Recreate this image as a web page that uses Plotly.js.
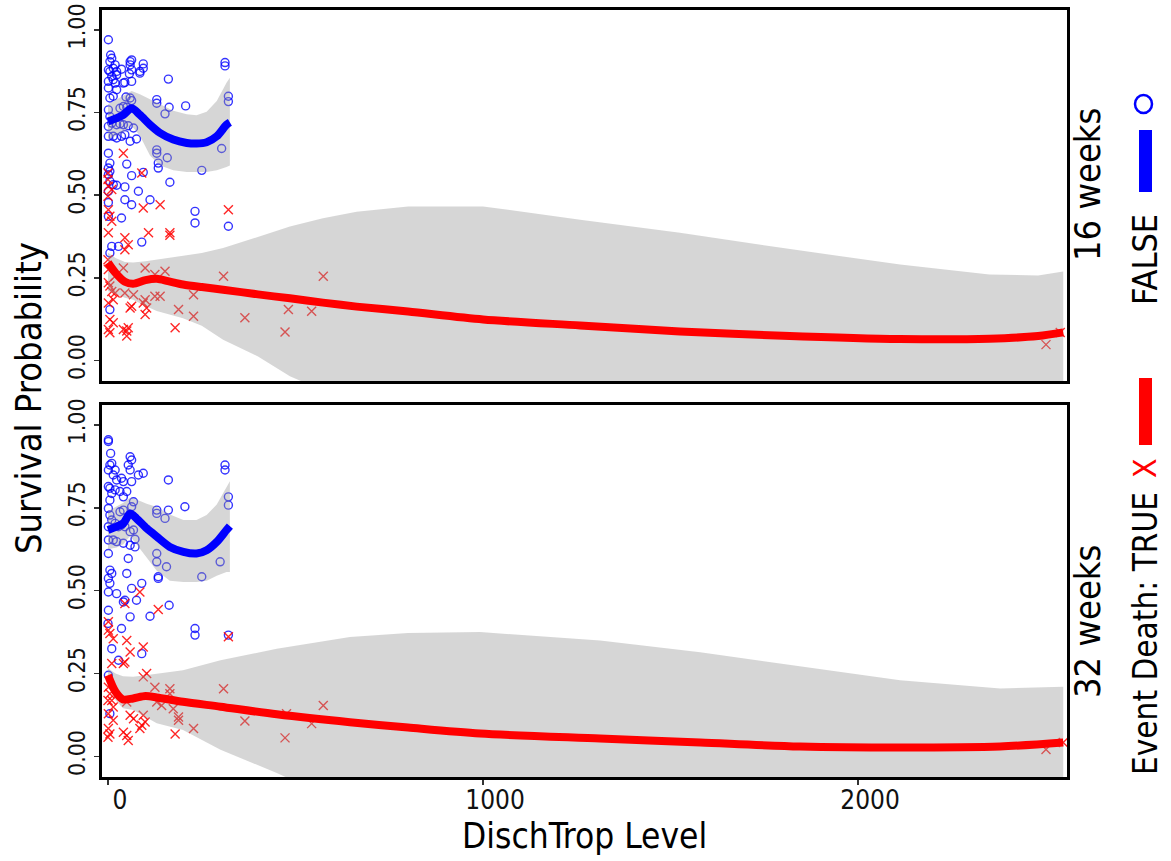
<!DOCTYPE html>
<html>
<head>
<meta charset="utf-8">
<script src="https://cdn.plot.ly/plotly-3.0.1.min.js"></script>
<style>html,body{margin:0;padding:0;background:#fff;}#chart{width:1171px;height:861px;}</style>
</head>
<body>
<div id="chart"></div>
<script>
// ---------------- DATA ----------------
const xTickVals = [0, 1000, 2000];
const xTickText = ['0', '1000', '2000'];
const yTickVals = [0, 0.25, 0.5, 0.75, 1.0];
const yTickText = ['0.00', '0.25', '0.50', '0.75', '1.00'];
const panelLabels = ['16 weeks', '32 weeks'];

// 16 weeks, Event Death FALSE (points)
const w16FalseX = [1,7,10,5,1,5,14,19,23,36,10,14,1,19,23,41,45,59,63,59,85,94,94,85,63,57,63,161,23,1,5,14,48,59,63,130,130,163,207,152,32,41,50,1,5,1,10,23,32,41,54,68,1,14,23,36,45,59,76,130,130,158,303,312,312,321,321,1,5,1,5,50,1,134,134,63,94,250,165,5,14,23,45,1,81,45,63,112,1,1,36,232,232,321,10,28,90,5,5];
const w16FalseY = [0.970,0.924,0.914,0.904,0.879,0.874,0.884,0.894,0.874,0.881,0.859,0.849,0.844,0.839,0.864,0.839,0.841,0.904,0.909,0.894,0.874,0.897,0.884,0.869,0.879,0.867,0.844,0.851,0.819,0.824,0.794,0.799,0.797,0.794,0.786,0.789,0.778,0.766,0.770,0.746,0.763,0.768,0.766,0.758,0.738,0.708,0.718,0.713,0.716,0.713,0.710,0.703,0.678,0.678,0.673,0.678,0.683,0.663,0.670,0.637,0.627,0.613,0.641,0.901,0.891,0.799,0.783,0.627,0.597,0.582,0.572,0.594,0.562,0.597,0.582,0.559,0.569,0.575,0.539,0.542,0.532,0.530,0.525,0.512,0.512,0.486,0.471,0.486,0.478,0.436,0.431,0.451,0.416,0.406,0.345,0.345,0.358,0.325,0.154];

// 16 weeks, Event Death TRUE (points)
const w16TrueX = [41,90,94,139,321,108,165,165,1,5,10,1,45,54,45,0,10,1,0,0,308,574,99,152,125,41,1,5,10,19,14,1,5,14,1,5,41,50,54,50,59,63,94,103,99,99,125,139,68,45,228,188,179,228,365,481,543,472,0,1,19,2539,2501];
const w16TrueY = [0.627,0.567,0.461,0.471,0.456,0.386,0.386,0.379,0.386,0.436,0.421,0.456,0.371,0.350,0.335,0.497,0.517,0.527,0.547,0.567,0.255,0.255,0.280,0.270,0.260,0.280,0.235,0.225,0.209,0.204,0.184,0.174,0.124,0.114,0.094,0.084,0.094,0.089,0.099,0.074,0.159,0.164,0.174,0.159,0.139,0.184,0.194,0.194,0.199,0.204,0.199,0.154,0.099,0.134,0.129,0.154,0.149,0.086,0.305,0.275,0.255,0.085,0.048];

// 32 weeks, Event Death FALSE (points)
const w32FalseX = [1,1,7,10,5,1,19,14,23,36,41,59,63,54,59,81,94,63,161,1,5,10,19,32,41,50,5,32,41,63,68,130,130,161,205,152,1,5,10,1,19,28,36,45,59,68,1,14,23,41,59,72,72,312,312,321,321,130,130,156,299,134,134,250,1,5,10,1,50,54,90,63,5,23,1,41,45,76,59,112,163,1,0,36,232,232,321,10,28,90,1,5];
const w32FalseY = [0.955,0.950,0.914,0.884,0.879,0.864,0.864,0.849,0.834,0.839,0.829,0.904,0.894,0.879,0.864,0.849,0.854,0.829,0.834,0.814,0.809,0.793,0.804,0.799,0.783,0.799,0.773,0.738,0.743,0.753,0.768,0.743,0.733,0.743,0.753,0.718,0.748,0.728,0.713,0.693,0.703,0.693,0.698,0.693,0.678,0.683,0.653,0.653,0.648,0.643,0.637,0.632,0.655,0.879,0.864,0.783,0.758,0.612,0.587,0.572,0.587,0.542,0.537,0.542,0.612,0.562,0.552,0.537,0.552,0.597,0.522,0.507,0.522,0.491,0.496,0.466,0.471,0.471,0.421,0.423,0.456,0.441,0.401,0.386,0.386,0.366,0.366,0.325,0.290,0.310,0.245,0.129];

// 32 weeks, Event Death TRUE (points)
const w32TrueX = [85,134,45,1,1,5,14,50,59,94,41,45,10,103,94,125,165,308,574,50,130,143,165,174,1,5,10,14,1,14,1,5,0,41,50,54,59,68,94,99,90,85,188,188,179,228,365,476,543,472,0,321,2547,2501];
const w32TrueY = [0.496,0.443,0.461,0.406,0.381,0.371,0.355,0.350,0.315,0.330,0.280,0.285,0.280,0.250,0.240,0.209,0.204,0.204,0.154,0.164,0.164,0.154,0.189,0.144,0.209,0.189,0.169,0.149,0.129,0.109,0.084,0.068,0.058,0.073,0.063,0.048,0.124,0.114,0.124,0.104,0.094,0.084,0.119,0.109,0.068,0.084,0.107,0.129,0.099,0.056,0.169,0.361,0.042,0.021];

// Loess smooths with confidence bands
const s16FalseX   = [0, 23, 41, 63, 85, 112, 139, 174, 210, 236, 263, 290, 316, 325];
const s16FalseFit = [0.723,0.733,0.743,0.763,0.743,0.713,0.688,0.668,0.658,0.656,0.660,0.678,0.713,0.720];
const s16FalseHi  = [0.775,0.790,0.800,0.815,0.805,0.790,0.775,0.755,0.745,0.742,0.752,0.785,0.840,0.855];
const s16FalseLo  = [0.670,0.680,0.690,0.710,0.680,0.620,0.590,0.575,0.570,0.570,0.570,0.575,0.585,0.590];

const s16TrueX   = [0, 20, 45, 67, 100, 130, 160, 200, 250, 307, 400, 485, 573, 663, 800, 1000, 1259, 1525, 1800, 2112, 2350, 2480, 2547];
const s16TrueFit = [0.296,0.265,0.238,0.232,0.243,0.247,0.240,0.230,0.222,0.214,0.200,0.188,0.175,0.163,0.148,0.124,0.106,0.088,0.075,0.065,0.066,0.074,0.085];
const s16TrueHi  = [0.326,0.310,0.298,0.296,0.300,0.305,0.310,0.315,0.325,0.340,0.375,0.405,0.430,0.450,0.466,0.466,0.426,0.386,0.340,0.290,0.260,0.257,0.269];
const s16TrueLo  = [0.210,0.200,0.190,0.184,0.165,0.150,0.140,0.128,0.105,0.063,0.012,-0.048,-0.09,-0.13,-0.17,-0.21,-0.22,-0.21,-0.19,-0.16,-0.13,-0.11,-0.10];

const s32FalseX   = [0, 23, 41, 59, 76, 103, 130, 165, 201, 236, 263, 290, 316, 325];
const s32FalseFit = [0.683,0.693,0.703,0.733,0.718,0.688,0.663,0.632,0.617,0.612,0.622,0.647,0.683,0.695];
const s32FalseHi  = [0.740,0.755,0.765,0.780,0.775,0.762,0.752,0.730,0.713,0.713,0.728,0.760,0.810,0.830];
const s32FalseLo  = [0.625,0.630,0.640,0.665,0.640,0.600,0.560,0.530,0.526,0.526,0.530,0.545,0.556,0.556];

const s32TrueX   = [0, 20, 40, 67, 100, 130, 200, 300, 450, 645, 800, 992, 1312, 1579, 1845, 2112, 2379, 2547];
const s32TrueFit = [0.245,0.195,0.172,0.175,0.182,0.178,0.165,0.150,0.127,0.103,0.087,0.069,0.054,0.042,0.030,0.027,0.030,0.042];
const s32TrueHi  = [0.266,0.250,0.242,0.240,0.245,0.250,0.260,0.290,0.325,0.360,0.372,0.375,0.350,0.314,0.272,0.230,0.205,0.210];
const s32TrueLo  = [0.220,0.170,0.145,0.140,0.120,0.100,0.080,0.020,-0.050,-0.150,-0.200,-0.240,-0.240,-0.230,-0.210,-0.180,-0.140,-0.120];

// ---------------- STYLE ----------------
const FONT = '"DejaVu Sans Condensed", "DejaVu Sans", "Liberation Sans", sans-serif';
const BLUE = '#0000ff', RED = '#ff0000';
const BAND = 'rgba(153,153,153,0.4)';

function pts(x, y, isTrue, xa, ya) {
  return {
    type: 'scatter', mode: 'markers', x: x, y: y, xaxis: xa, yaxis: ya, showlegend: false, hoverinfo: 'skip',
    marker: isTrue
      ? {symbol: 'x-thin-open', size: 9, color: 'rgba(255,0,0,0.85)', line: {color: 'rgba(255,0,0,0.85)', width: 1.4}}
      : {symbol: 'circle-open', size: 8, color: 'rgba(0,0,255,0.8)', line: {color: 'rgba(0,0,255,0.8)', width: 1.4}}
  };
}
function band(x, lo, hi, xa, ya) {
  return {
    type: 'scatter', mode: 'lines', xaxis: xa, yaxis: ya, showlegend: false, hoverinfo: 'skip',
    x: x.concat(x.slice().reverse()), y: hi.concat(lo.slice().reverse()),
    fill: 'toself', fillcolor: BAND, line: {width: 0}
  };
}
function fitLine(x, y, color, xa, ya) {
  return {
    type: 'scatter', mode: 'lines', x: x, y: y, xaxis: xa, yaxis: ya, showlegend: false, hoverinfo: 'skip',
    line: {color: color, width: 8, shape: 'spline', smoothing: 0.8}
  };
}

const data = [
  // top panel (16 weeks) -> x2/y2
  pts(w16FalseX, w16FalseY, false, 'x2', 'y2'),
  pts(w16TrueX, w16TrueY, true, 'x2', 'y2'),
  band(s16FalseX, s16FalseLo, s16FalseHi, 'x2', 'y2'),
  band(s16TrueX, s16TrueLo, s16TrueHi, 'x2', 'y2'),
  fitLine(s16FalseX, s16FalseFit, BLUE, 'x2', 'y2'),
  fitLine(s16TrueX, s16TrueFit, RED, 'x2', 'y2'),
  // bottom panel (32 weeks) -> x/y
  pts(w32FalseX, w32FalseY, false, 'x', 'y'),
  pts(w32TrueX, w32TrueY, true, 'x', 'y'),
  band(s32FalseX, s32FalseLo, s32FalseHi, 'x', 'y'),
  band(s32TrueX, s32TrueLo, s32TrueHi, 'x', 'y'),
  fitLine(s32FalseX, s32FalseFit, BLUE, 'x', 'y'),
  fitLine(s32TrueX, s32TrueFit, RED, 'x', 'y')
];

// pixel -> paper helpers for decorations (plot area: x 102..1067, y 10..777)
const L = 102, R = 1067, T = 10, B = 777;
const px = v => (v - L) / (R - L);
const py = v => (B - v) / (B - T);

const xBase = {
  range: [-16, 2557], showgrid: false, zeroline: false,
  showline: true, mirror: true, linecolor: '#000', linewidth: 3
};
const yBase = {
  range: [-0.062, 1.06], tickvals: yTickVals, ticktext: yTickText,
  tickangle: -90, ticks: 'outside', ticklen: 5, tickwidth: 1.5, tickcolor: '#333',
  tickfont: {family: FONT, size: 23, color: '#111'},
  showgrid: false, zeroline: false, showline: true, mirror: true, linecolor: '#000', linewidth: 3
};

const layout = {
  width: 1171, height: 861,
  margin: {l: L, r: 1171 - R, t: T, b: 861 - B},
  paper_bgcolor: '#fff', plot_bgcolor: '#fff',
  showlegend: false,
  font: {family: FONT, color: '#000'},
  xaxis: Object.assign({}, xBase, {
    anchor: 'y', tickvals: xTickVals, ticktext: xTickText,
    ticks: 'outside', ticklen: 5, tickwidth: 1.5, tickcolor: '#333', ticklabelshift: 12, ticklabelstandoff: -7,
    tickfont: {family: FONT, size: 26, color: '#111'}
  }),
  xaxis2: Object.assign({}, xBase, {anchor: 'y2', matches: 'x', showticklabels: false, ticks: ''}),
  yaxis: Object.assign({}, yBase, {domain: [0, (B - 405) / (B - T)], anchor: 'x'}),
  yaxis2: Object.assign({}, yBase, {domain: [(B - 381) / (B - T), 1], anchor: 'x2'}),
  shapes: [
    {type: 'rect', xref: 'paper', yref: 'paper', x0: px(1139), x1: px(1152), y0: py(192), y1: py(130), fillcolor: BLUE, line: {width: 0}},
    {type: 'circle', xref: 'paper', yref: 'paper', x0: px(1135), x1: px(1152), y0: py(113), y1: py(95), line: {color: BLUE, width: 2.5}},
    {type: 'rect', xref: 'paper', yref: 'paper', x0: px(1139), x1: px(1152), y0: py(445), y1: py(378), fillcolor: RED, line: {width: 0}}
  ],
  annotations: [
    {text: 'DischTrop Level', xref: 'paper', yref: 'paper', x: px(584), y: py(836),
     showarrow: false, xanchor: 'center', yanchor: 'middle', font: {family: FONT, size: 35, color: '#000'}},
    {text: 'Survival Probability', xref: 'paper', yref: 'paper', x: px(28), y: py(398), textangle: -90,
     showarrow: false, xanchor: 'center', yanchor: 'middle', font: {family: FONT, size: 36, color: '#000'}},
    {text: panelLabels[0], xref: 'paper', yref: 'paper', x: px(1087), y: py(185), textangle: -90,
     showarrow: false, xanchor: 'center', yanchor: 'middle', font: {family: FONT, size: 36, color: '#000'}},
    {text: panelLabels[1], xref: 'paper', yref: 'paper', x: px(1087), y: py(622), textangle: -90,
     showarrow: false, xanchor: 'center', yanchor: 'middle', font: {family: FONT, size: 36, color: '#000'}},
    {text: 'FALSE', xref: 'paper', yref: 'paper', x: px(1145), y: py(260), textangle: -90,
     showarrow: false, xanchor: 'center', yanchor: 'middle', font: {family: FONT, size: 34, color: '#000'}},
    {text: 'X', xref: 'paper', yref: 'paper', x: px(1145), y: py(468), textangle: -90,
     showarrow: false, xanchor: 'center', yanchor: 'middle', font: {family: FONT, size: 32, color: RED}},
    {text: 'Event Death: TRUE', xref: 'paper', yref: 'paper', x: px(1145), y: py(634), textangle: -90,
     showarrow: false, xanchor: 'center', yanchor: 'middle', font: {family: FONT, size: 33, color: '#000'}}
  ]
};

Plotly.newPlot('chart', data, layout, {staticPlot: true, displayModeBar: false});
</script>
</body>
</html>
